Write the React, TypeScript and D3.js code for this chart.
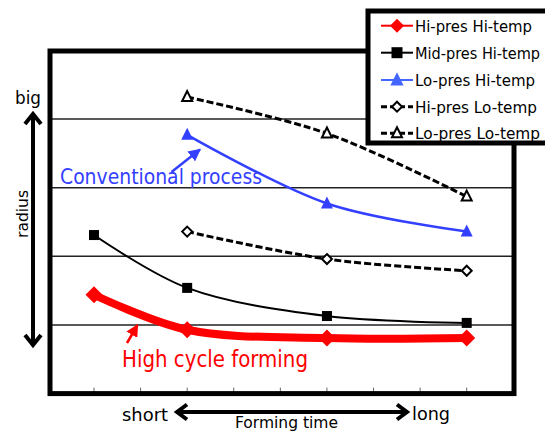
import * as d3 from 'd3'

const W = 545
const H = 432
const PLOT = { left: 50, right: 514, top: 51, bottom: 393.6 }

// forming time positions (x) and radius values (y)
const xAll = [1, 3, 6, 9]
const xLate = [3, 6, 9]
const hiPresHiTemp = [1.44, 0.93, 0.81, 0.81]
const midPresHiTemp = [2.31, 1.54, 1.13, 1.03]
const loPresHiTemp = [3.77, 2.77, 2.36]
const hiPresLoTemp = [2.36, 1.96, 1.79]
const loPresLoTemp = [4.32, 3.79, 2.87]

const gridValues = [1, 2, 3, 4]
const tickValues = [1, 2, 3, 4, 5, 6, 7, 8, 9]

const legendLabels = [
  'Hi-pres Hi-temp',
  'Mid-pres Hi-temp',
  'Lo-pres Hi-temp',
  'Hi-pres Lo-temp',
  'Lo-pres Lo-temp',
]
const legendWidths = [117, 125, 120, 122, 125]

const BLUE = '#3340ff'
const RED = '#ff0000'
const FONT = '"DejaVu Sans Condensed", "DejaVu Sans", sans-serif'

type MarkerKind = 'diamond' | 'square' | 'triangle' | 'openDiamond' | 'openTriangle'

type Series = {
  name: string
  xs: number[]
  ys: number[]
  color: string
  width: number
  dash?: string
  marker: MarkerKind
}

const series: Series[] = [
  { name: legendLabels[0], xs: xAll, ys: hiPresHiTemp, color: RED, width: 8, marker: 'diamond' },
  { name: legendLabels[1], xs: xAll, ys: midPresHiTemp, color: '#000', width: 2, marker: 'square' },
  { name: legendLabels[2], xs: xLate, ys: loPresHiTemp, color: BLUE, width: 2.5, marker: 'triangle' },
  { name: legendLabels[3], xs: xLate, ys: hiPresLoTemp, color: '#000', width: 3, dash: '7,3', marker: 'openDiamond' },
  { name: legendLabels[4], xs: xLate, ys: loPresLoTemp, color: '#000', width: 3, dash: '7,3', marker: 'openTriangle' },
]

function Marker({ kind, x, y, color, big }: { kind: MarkerKind; x: number; y: number; color: string; big?: boolean }) {
  if (kind === 'diamond') {
    const r = big ? 8.5 : 7
    return <path d={`M${x},${y - r}L${x + r},${y}L${x},${y + r}L${x - r},${y}Z`} fill={color} />
  }
  if (kind === 'square') {
    const r = big ? 5 : 5.5
    return <rect x={x - r} y={y - r} width={r * 2} height={r * 2} fill={color} />
  }
  if (kind === 'triangle') {
    const k = big ? 1 : 1.1
    return <path d={`M${x},${y - 7 * k}L${x + 6 * k},${y + 5 * k}L${x - 6 * k},${y + 5 * k}Z`} fill={color} />
  }
  if (kind === 'openDiamond') {
    const r = 5
    return (
      <path
        d={`M${x},${y - r}L${x + r},${y}L${x},${y + r}L${x - r},${y}Z`}
        fill="#fff"
        stroke={color}
        strokeWidth={2}
      />
    )
  }
  return <path d={`M${x},${y - 6}L${x + 5},${y + 4}L${x - 5},${y + 4}Z`} fill="#fff" stroke={color} strokeWidth={2} />
}

export default function App() {
  const xScale = d3.scaleLinear().domain([0, 10]).range([47.4, 513.3])
  const yScale = d3.scaleLinear().domain([0, 5]).range([PLOT.bottom, 50.4])

  const line = d3
    .line<[number, number]>()
    .x((d) => xScale(d[0]))
    .y((d) => yScale(d[1]))
    .curve(d3.curveCatmullRom)

  const legendRows = [25.7, 52.7, 80, 106.7, 133.3]

  return (
    <svg width={W} height={H} style={{ position: 'absolute', left: 0, top: 0 }} fontFamily={FONT}>
      <defs>
        <marker id="blueHead" viewBox="0 0 10 10" refX="9" refY="5" markerWidth="5" markerHeight="5" orient="auto">
          <path d="M0,0L10,5L0,10Z" fill={BLUE} />
        </marker>
        <marker id="redHead" viewBox="0 0 10 10" refX="9" refY="5" markerWidth="5" markerHeight="5" orient="auto">
          <path d="M0,0L10,5L0,10Z" fill={RED} />
        </marker>
      </defs>
      <rect width={W} height={H} fill="#fff" />

      {/* gridlines */}
      {gridValues.map((v) => (
        <line key={v} x1={PLOT.left} x2={PLOT.right} y1={yScale(v)} y2={yScale(v)} stroke="#222" strokeWidth={1.5} />
      ))}

      {/* small ticks on bottom */}
      {tickValues.map((t) => (
        <line key={t} x1={xScale(t)} x2={xScale(t)} y1={PLOT.bottom - 6} y2={PLOT.bottom} stroke="#666" strokeWidth={1} />
      ))}

      {/* series */}
      {series.map((s) => (
        <path
          key={s.name}
          d={line(s.xs.map((x, i) => [x, s.ys[i]] as [number, number])) || ''}
          fill="none"
          stroke={s.color}
          strokeWidth={s.width}
          strokeDasharray={s.dash}
          strokeLinejoin="round"
        />
      ))}
      {series.map((s) =>
        s.xs.map((x, i) => (
          <Marker key={s.name + i} kind={s.marker} x={xScale(x)} y={yScale(s.ys[i])} color={s.color} big />
        ))
      )}

      {/* annotations */}
      <line x1={171.5} y1={172} x2={200} y2={149.5} stroke={BLUE} strokeWidth={2.5} markerEnd="url(#blueHead)" />
      <text x={60} y={184} fill={BLUE} fontSize={22} textLength={202} lengthAdjust="spacingAndGlyphs">
        Conventional process
      </text>
      <line x1={127} y1={343} x2={137.5} y2={325} stroke={RED} strokeWidth={2.5} markerEnd="url(#redHead)" />
      <text x={122} y={367} fill={RED} fontSize={23} textLength={186} lengthAdjust="spacingAndGlyphs">
        High cycle forming
      </text>

      {/* frame */}
      <rect
        x={PLOT.left}
        y={PLOT.top}
        width={PLOT.right - PLOT.left}
        height={PLOT.bottom - PLOT.top}
        fill="none"
        stroke="#000"
        strokeWidth={5}
      />

      {/* radius arrow */}
      <line x1={33} x2={33} y1={116} y2={343} stroke="#000" strokeWidth={4} />
      <path d="M25,124L33,114L41,124" fill="none" stroke="#000" strokeWidth={4} strokeLinejoin="miter" />
      <path d="M25,335L33,345L41,335" fill="none" stroke="#000" strokeWidth={4} strokeLinejoin="miter" />
      <text x={15} y={104} fontSize={18} textLength={26} lengthAdjust="spacingAndGlyphs">
        big
      </text>
      <text
        transform="translate(28,214) rotate(-90)"
        textAnchor="middle"
        fontSize={15}
        textLength={48}
        lengthAdjust="spacingAndGlyphs"
      >
        radius
      </text>

      {/* forming time arrow */}
      <line x1={178} x2={406} y1={412} y2={412} stroke="#000" strokeWidth={4} />
      <path d="M187,404.5L177,412L187,419.5" fill="none" stroke="#000" strokeWidth={4} />
      <path d="M397,404.5L407,412L397,419.5" fill="none" stroke="#000" strokeWidth={4} />
      <text x={122} y={421} fontSize={18} textLength={46} lengthAdjust="spacingAndGlyphs">
        short
      </text>
      <text x={412} y={420} fontSize={18} textLength={38} lengthAdjust="spacingAndGlyphs">
        long
      </text>
      <text x={235} y={428} fontSize={16} textLength={103} lengthAdjust="spacingAndGlyphs">
        Forming time
      </text>

      {/* legend */}
      <rect x={368} y={11} width={185} height={132} fill="#fff" stroke="#000" strokeWidth={5} />
      {series.map((s, i) => (
        <g key={s.name}>
          <line
            x1={381}
            x2={413}
            y1={legendRows[i]}
            y2={legendRows[i]}
            stroke={s.color === BLUE ? '#4466ff' : s.color}
            strokeWidth={s.dash ? 3 : 2}
            strokeDasharray={s.dash ? '6,3' : undefined}
          />
          <Marker kind={s.marker} x={397} y={legendRows[i]} color={s.color === BLUE ? '#4466ff' : s.color} />
          <text x={415} y={legendRows[i] + 6} fontSize={16} textLength={legendWidths[i]} lengthAdjust="spacingAndGlyphs">
            {s.name}
          </text>
        </g>
      ))}
    </svg>
  )
}
